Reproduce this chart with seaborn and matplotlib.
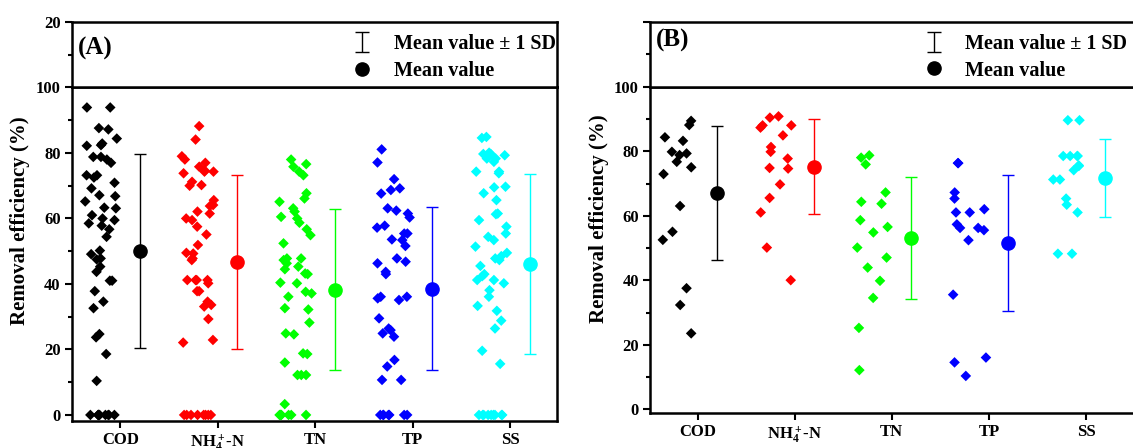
import numpy as np
import pandas as pd
import matplotlib
matplotlib.use("Agg")
import matplotlib.pyplot as plt
from matplotlib.lines import Line2D
from matplotlib.ticker import MultipleLocator, FixedLocator
import seaborn as sns

# ---- categories ----
params = ["COD", "NH4-N", "TN", "TP", "SS"]
param_labels = ["COD", r"NH$_4^+$-N", "TN", "TP", "SS"]
colors = ["#000000", "#FF0000", "#00FF00", "#0000FF", "#00FFFF"]

# ---- panel (A): removal efficiency (%) of every sample ----
a_cod = [93.9, 93.9, 87.6, 87.2, 84.4, 82.9, 82.4, 82.2, 78.8, 78.8, 78.0, 77.0,
         73.2, 73.2, 72.5, 70.9, 69.2, 67.1, 66.8, 65.2, 63.3, 63.1, 61.0, 60.0,
         59.5, 58.5, 57.8, 56.7, 54.4, 50.2, 49.1, 47.8, 47.5, 45.3, 43.7, 41.0,
         41.0, 37.8, 34.6, 32.6, 24.7, 23.7, 18.6, 10.4,
         0, 0, 0, 0, 0, 0, 0, 0, 0]
a_nh4 = [88.2, 84.1, 79.0, 78.0, 77.0, 75.8, 74.6, 74.3, 74.3, 73.8, 71.2, 70.2,
         70.0, 65.6, 64.1, 63.8, 62.1, 61.5, 60.0, 59.5, 57.5, 55.1, 51.9, 49.5,
         49.3, 47.8, 47.3, 41.2, 41.2, 41.2, 41.2, 40.2, 37.8, 37.8, 34.6, 33.6,
         33.1, 29.3, 22.9, 22.1,
         0, 0, 0, 0, 0, 0, 0, 0]
a_tn = [78.0, 76.6, 75.8, 74.3, 73.2, 67.7, 66.1, 65.1, 63.1, 62.1, 60.5, 60.0,
        58.7, 56.7, 54.9, 52.4, 47.8, 47.8, 47.3, 46.3, 45.3, 44.5, 43.2, 43.0,
        40.4, 40.2, 37.6, 37.1, 36.1, 32.6, 32.2, 28.2, 24.9, 24.6, 18.8, 18.6,
        16.0, 12.2, 12.2, 12.2, 3.3,
        0, 0, 0, 0, 0, 0, 0]
a_tp = [81.1, 77.1, 72.0, 69.2, 68.7, 67.6, 63.1, 62.4, 61.5, 60.3, 57.8, 57.2,
        55.4, 55.4, 53.6, 53.4, 51.6, 47.8, 46.8, 46.3, 43.7, 43.0, 36.1, 36.1,
        35.6, 35.1, 29.5, 26.4, 25.9, 24.9, 23.9, 16.8, 14.8, 10.7, 10.7,
        0, 0, 0, 0, 0, 0, 0]
a_ss = [84.9, 84.6, 80.1, 79.7, 79.7, 79.3, 78.3, 78.3, 77.3, 74.3, 74.3, 73.8,
        69.7, 69.5, 67.7, 65.6, 61.5, 61.3, 59.5, 57.5, 55.4, 54.4, 53.4, 51.4,
        49.5, 48.5, 47.8, 47.3, 45.5, 43.0, 42.4, 41.2, 41.2, 40.2, 38.1, 36.1,
        33.3, 31.8, 28.8, 26.4, 19.6, 15.6,
        0, 0, 0, 0, 0, 0, 0, 0, 0]

# ---- panel (B) ----
b_cod = [89.5, 88.2, 84.4, 83.3, 79.9, 79.4, 78.9, 76.8, 75.1, 73.0, 63.1, 55.1,
         52.6, 37.6, 32.4, 23.6]
b_nh4 = [90.9, 90.5, 88.1, 88.1, 87.4, 85.0, 81.4, 79.9, 77.8, 74.9, 74.7, 69.8,
         65.6, 61.1, 50.2, 40.1]
b_tn = [78.8, 78.1, 76.0, 67.3, 64.4, 63.8, 58.7, 56.6, 54.9, 50.2, 47.1, 44.0,
        39.9, 34.6, 25.3, 12.2]
b_tp = [76.4, 76.4, 67.3, 65.4, 62.1, 61.1, 61.1, 57.4, 56.3, 56.3, 55.6, 52.5,
        35.6, 16.1, 14.6, 10.4]
b_ss = [89.7, 89.7, 78.6, 78.6, 78.6, 78.6, 75.7, 75.5, 74.2, 71.3, 71.3, 65.4,
        63.5, 61.1, 48.3, 48.3]

sns.set_style("ticks")
plt.rcParams.update({
    "font.family": ["Liberation Serif", "DejaVu Serif"],
    "font.weight": "bold",
    "axes.labelweight": "bold",
    "axes.edgecolor": "black",
    "axes.labelcolor": "black",
    "text.color": "black",
    "xtick.color": "black",
    "ytick.color": "black",
    "mathtext.fontset": "custom",
    "mathtext.rm": "Liberation Serif:bold",
    "mathtext.it": "Liberation Serif:bold",
    "mathtext.bf": "Liberation Serif:bold",
})
np.random.seed(7)

fig = plt.figure(figsize=(11.33, 4.48), dpi=100)


def style_axis(ax):
    for sp in ax.spines.values():
        sp.set_visible(True)
        sp.set_linewidth(1.8)
        sp.set_color("black")
    ax.tick_params(which="major", direction="out", length=5, width=1.5,
                   labelsize=12, pad=3)
    ax.tick_params(which="minor", direction="out", length=3, width=1.5)


def draw_panel(ax, ax_top, columns, letter, y_bottom, top_label,
               letter_xy, legend_anchor, xlim, ylabel_xy):
    df = pd.DataFrame({
        "param": np.repeat(params, [len(c) for c in columns]),
        "value": np.concatenate(columns),
    })
    sns.stripplot(data=df, x="param", y="value", hue="param", order=params,
                  hue_order=params, palette=colors, marker="D", size=5.4,
                  jitter=0.17, linewidth=0, legend=False, ax=ax, zorder=3)

    stats = df.groupby("param")["value"].agg(["mean", "std"]).reindex(params)
    for i, (p, c) in enumerate(zip(params, colors)):
        ax.errorbar(i + 0.4, stats.loc[p, "mean"], yerr=stats.loc[p, "std"],
                    fmt="o", color=c, ms=9.5, capsize=4, elinewidth=1,
                    capthick=1, zorder=4)

    ax.set_xlim(*xlim)
    ax.set_xticks(np.arange(len(params)) + 0.2, param_labels)
    ax.set_ylim(y_bottom, 100)
    ax.yaxis.set_major_locator(MultipleLocator(20))
    ax.yaxis.set_minor_locator(MultipleLocator(10))
    ax.set_xlabel("")
    ax.set_ylabel("Removal efficiency (%)", fontsize=15, fontweight="bold")
    ax.yaxis.set_label_coords(*ylabel_xy)
    style_axis(ax)
    ax.tick_params(axis="x", which="minor", bottom=False)

    # upper strip above the break
    ax_top.set_xlim(*xlim)
    ax_top.set_xticks([])
    ax_top.set_ylim(100, 120)
    ax_top.yaxis.set_major_locator(FixedLocator([120]))
    ax_top.set_yticklabels([top_label])
    ax_top.yaxis.set_minor_locator(FixedLocator([110]))
    style_axis(ax_top)
    ax_top.tick_params(axis="x", which="both", bottom=False)

    ax_top.text(letter_xy[0], letter_xy[1], letter, transform=ax_top.transAxes,
                ha="left", va="center", fontsize=18, fontweight="bold")

    # legend proxies: a NaN point keeps the caps without drawing anything
    sd_handle = ax_top.errorbar([0], [np.nan], yerr=[1], fmt="none",
                                ecolor="black", elinewidth=1, capsize=5,
                                capthick=1)
    mean_handle = Line2D([], [], marker="o", ls="none", color="black", ms=9.5)
    ax_top.legend([sd_handle, mean_handle], ["Mean value ± 1 SD", "Mean value"],
                  loc="upper right", bbox_to_anchor=legend_anchor,
                  frameon=False, prop={"size": 14.5, "weight": "bold"},
                  handlelength=1.5, handletextpad=0.8, labelspacing=0.32,
                  borderpad=0, borderaxespad=0, numpoints=1)


# panel (A)
ax_a = fig.add_axes([0.0633, 0.061, 0.4283, 0.7437])
ax_a_top = fig.add_axes([0.0633, 0.8047, 0.4283, 0.1469])
draw_panel(ax_a, ax_a_top, [a_cod, a_nh4, a_tn, a_tp, a_ss], "(A)", -1.75,
           "20", (0.013, 0.6), (0.997, 0.81), (-0.3, 4.68), (-0.086, 0.6))

# panel (B): its right edge runs past the figure border
ax_b = fig.add_axes([0.5737, 0.0781, 0.44, 0.7277])
ax_b_top = fig.add_axes([0.5737, 0.8058, 0.44, 0.1458])
draw_panel(ax_b, ax_b_top, [b_cod, b_nh4, b_tn, b_tp, b_ss], "(B)", -1.1,
           "", (0.012, 0.71), (0.957, 0.81), (-0.29, 4.844), (-0.082, 0.597))

fig.savefig("out.png", dpi=100)
